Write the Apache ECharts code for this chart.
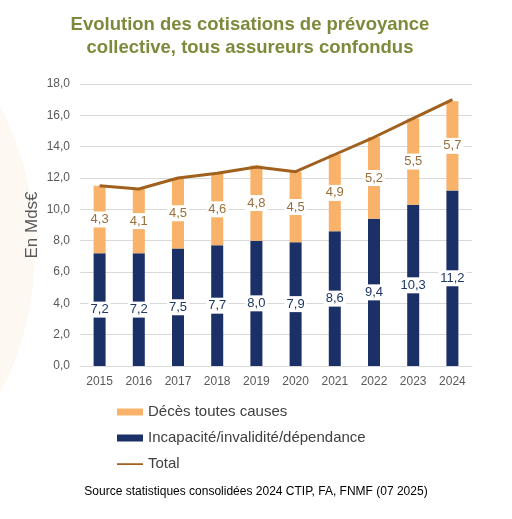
<!DOCTYPE html>
<html>
<head>
<meta charset="utf-8">
<script src="https://cdn.jsdelivr.net/npm/echarts@6/dist/echarts.min.js"></script>
<style>
html,body{margin:0;padding:0;background:#ffffff;}
#c{width:512px;height:519px;}
</style>
</head>
<body>
<div id="c"></div>
<script>
const years = ['2015','2016','2017','2018','2019','2020','2021','2022','2023','2024'];
const incapacite = [7.2,7.2,7.5,7.7,8.0,7.9,8.6,9.4,10.3,11.2];
const deces = [4.3,4.1,4.5,4.6,4.8,4.5,4.9,5.2,5.5,5.7];
const total = [11.5,11.3,12.0,12.3,12.7,12.4,13.5,14.6,15.8,17.0];

const fmt = v => Number(v).toFixed(1).replace('.', ',');
const FONT = '"Liberation Sans", Arial, sans-serif';

const chart = echarts.init(document.getElementById('c'), null, {renderer:'canvas'});
chart.setOption({
  animation:false,
  textStyle:{fontFamily:FONT},
  graphic:[
    {type:'circle', shape:{cx:-280, cy:250, r:315}, style:{fill:'#fef8f2'}, silent:true, z:-10},
    {type:'text', x:250, y:13, style:{
      text:'Evolution des cotisations de prévoyance\ncollective, tous assureurs confondus',
      font:'bold 18.5px ' + FONT, fill:'#7b8b3b', align:'center', verticalAlign:'top', lineHeight:23}},
    {type:'text', left:'center', top:486, style:{text:'Source statistiques consolidées 2024 CTIP, FA, FNMF (07 2025)', font:'12px ' + FONT, fill:'#000000'}}
  ],
  legend:{
    orient:'vertical', left:117, top:404, padding:0,
    itemWidth:26, itemHeight:7, itemGap:10,
    textStyle:{fontSize:15, color:'#404040', lineHeight:16, fontFamily:FONT},
    data:[
      {name:'Décès toutes causes', icon:'rect'},
      {name:'Incapacité/invalidité/dépendance', icon:'rect'},
      {name:'Total', icon:'path://M0,0 L0.01,0 M0,2.8 L26,2.8 L26,4.4 L0,4.4 Z M26,7 L25.99,7'}
    ]
  },
  grid:{left:80, right:40, top:84, bottom:153},
  xAxis:{
    type:'category', data:years,
    axisTick:{show:false},
    axisLine:{lineStyle:{color:'#d9d9d9'}},
    axisLabel:{fontSize:12, color:'#595959', margin:10}
  },
  yAxis:{
    type:'value', min:0, max:18, interval:2,
    name:'En Mds€', nameLocation:'middle', nameGap:39, nameRotate:90, nameMoveOverlap:false,
    nameTextStyle:{fontSize:17, color:'#595959'},
    axisLabel:{fontSize:12, color:'#595959', margin:10, formatter:v=>fmt(v)},
    splitLine:{lineStyle:{color:'#d9d9d9'}}
  },
  series:[
    {
      name:'Incapacité/invalidité/dépendance', type:'bar', stack:'s', data:incapacite,
      barWidth:12, itemStyle:{color:'#1b3067'},
      label:{show:true, position:'inside', formatter:p=>fmt(p.value), color:'#1f3864', fontSize:13,
        backgroundColor:'#ffffff', padding:[2,2,1,2]}
    },
    {
      name:'Décès toutes causes', type:'bar', stack:'s', data:deces,
      barWidth:12, itemStyle:{color:'#f8b26a'},
      label:{show:true, position:'inside', formatter:p=>fmt(p.value), color:'#9a6f3c', fontSize:13,
        backgroundColor:'#ffffff', padding:[2,2,1,2]}
    },
    {
      name:'Total', type:'line', data:total, symbol:'none', z:5,
      lineStyle:{color:'#a0601e', width:3}, itemStyle:{color:'#a0601e'},
      label:{show:true, position:'top', distance:8, formatter:p=>fmt(p.value), color:'#7b8b3b', fontSize:13, fontWeight:'bold'}
    }
  ]
});
</script>
</body>
</html>
